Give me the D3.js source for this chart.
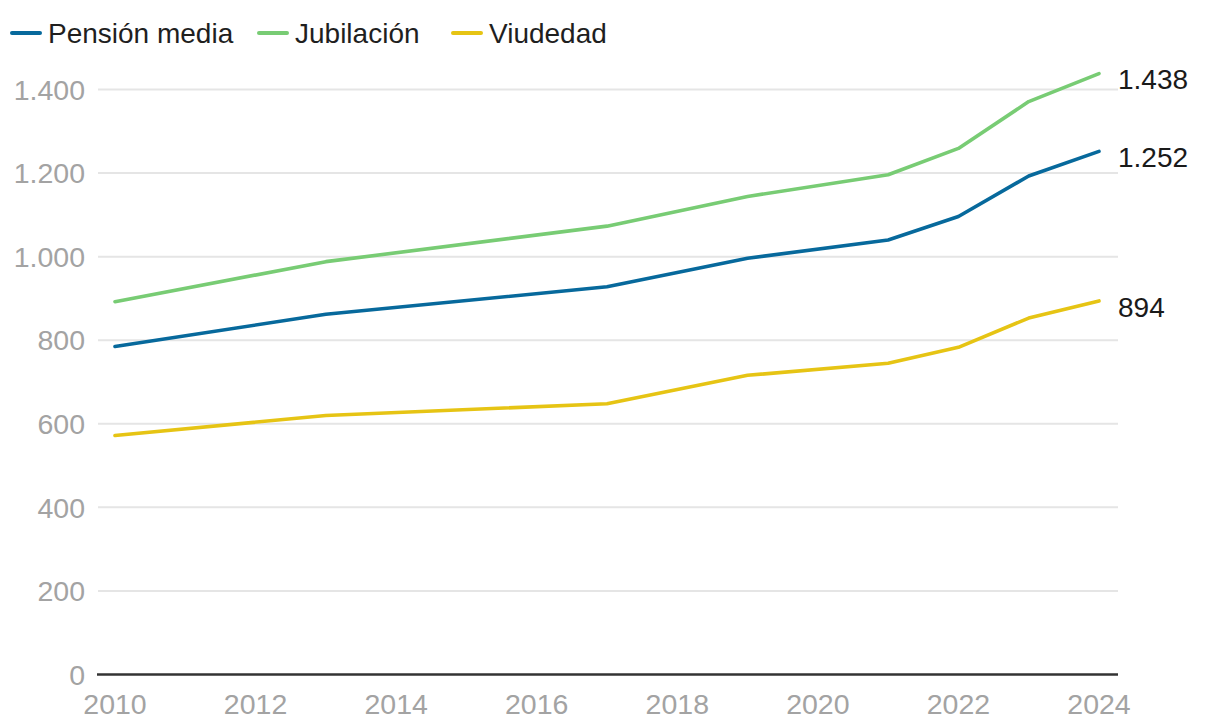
<!DOCTYPE html>
<html>
<head>
<meta charset="utf-8">
<script src="https://cdn.jsdelivr.net/npm/d3@7"></script>
<style>
  html, body { margin: 0; padding: 0; background: #fff; }
  svg { display: block; font-family: "Liberation Sans", Arial, sans-serif; }
</style>
</head>
<body>
<svg id="chart" width="1220" height="726"></svg>
<script>
const years = [2010, 2013, 2017, 2019, 2021, 2022, 2023, 2024];
const pensionMedia = [785, 862, 928, 996, 1040, 1096, 1193, 1252];
const jubilacion   = [892, 988, 1073, 1144, 1196, 1259, 1371, 1438];
const viudedad     = [572, 620, 648, 716, 745, 783, 853, 894];
const seriesNames  = ["Pensión media", "Jubilación", "Viudedad"];
const seriesColors = ["#07699c", "#78cc74", "#e6c414"];
const yTicks = [0, 200, 400, 600, 800, 1000, 1200, 1400];
const xTicks = [2010, 2012, 2014, 2016, 2018, 2020, 2022, 2024];

const seriesValues = [pensionMedia, jubilacion, viudedad];
const fmt = v => d3.format(",")(v).replace(/,/g, ".");

const svg = d3.select("#chart");
const x = d3.scaleLinear().domain([2010, 2024]).range([115, 1099]);
const y = d3.scaleLinear().domain([0, 1400]).range([674.5, 89.5]);

// gridlines
svg.append("g").selectAll("line").data(yTicks.filter(d => d > 0)).join("line")
  .attr("x1", 98).attr("x2", 1118)
  .attr("y1", d => y(d)).attr("y2", d => y(d))
  .attr("stroke", "#e5e5e5").attr("stroke-width", 2);

// y labels
svg.append("g").selectAll("text").data(yTicks).join("text")
  .attr("x", 85).attr("y", d => y(d))
  .attr("dy", "0.36em")
  .attr("text-anchor", "end")
  .attr("font-size", 28.5)
  .attr("fill", "#a3a3a3")
  .text(d => fmt(d));

// baseline
svg.append("line")
  .attr("x1", 97).attr("x2", 1118)
  .attr("y1", y(0)).attr("y2", y(0))
  .attr("stroke", "#333").attr("stroke-width", 2.5);

// x labels
svg.append("g").selectAll("text").data(xTicks).join("text")
  .attr("x", d => x(d)).attr("y", 714)
  .attr("text-anchor", "middle")
  .attr("font-size", 28.5)
  .attr("fill", "#a3a3a3")
  .text(d => d);

// lines
const line = d3.line().x((d, i) => x(years[i])).y(d => y(d));
const order = [1, 0, 2];
order.forEach(k => {
  svg.append("path")
    .datum(seriesValues[k])
    .attr("d", line)
    .attr("fill", "none")
    .attr("stroke", seriesColors[k])
    .attr("stroke-width", 3.6)
    .attr("stroke-linejoin", "round")
    .attr("stroke-linecap", "round");
});

// end labels
svg.append("g").selectAll("text").data(seriesValues).join("text")
  .attr("x", 1118)
  .attr("y", d => y(d[d.length - 1]) + 5.5)
  .attr("dy", "0.36em")
  .attr("font-size", 28)
  .attr("fill", "#1a1a1a")
  .text(d => fmt(d[d.length - 1]));

// legend
const legend = svg.append("g");
const legendX = [10, 257, 451];
seriesNames.forEach((name, i) => {
  const lx = legendX[i];
  legend.append("line")
    .attr("x1", lx + 2).attr("x2", lx + 30)
    .attr("y1", 33).attr("y2", 33)
    .attr("stroke", seriesColors[i]).attr("stroke-width", 4)
    .attr("stroke-linecap", "round");
  legend.append("text")
    .attr("x", lx + 38).attr("y", 33)
    .attr("dy", "0.36em")
    .attr("font-size", 28)
    .attr("fill", "#1f1f1f")
    .text(name);
});
</script>
</body>
</html>
